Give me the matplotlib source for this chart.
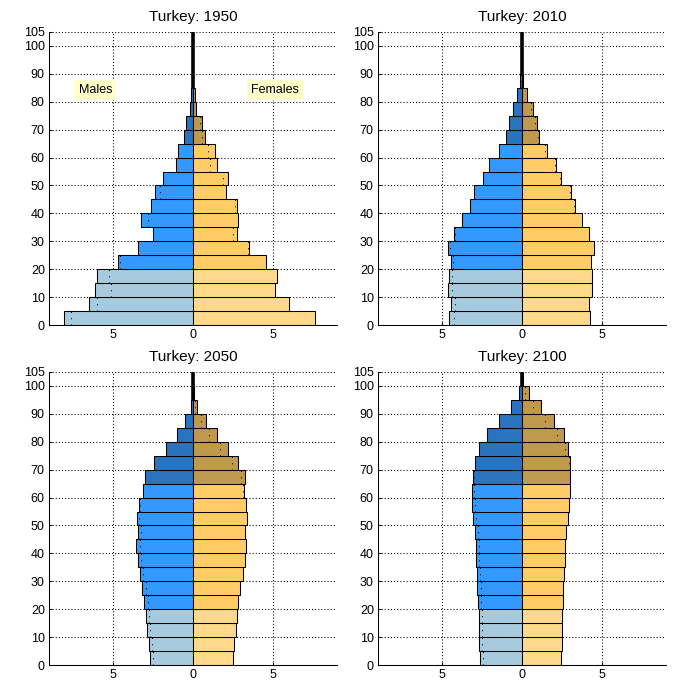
import numpy as np
import matplotlib
matplotlib.use('Agg')
import matplotlib.pyplot as plt

plt.rcParams['font.family'] = ['Liberation Sans', 'DejaVu Sans']

# age groups 0-4, 5-9, ..., 100-104 (percent of population)
edades = np.arange(0, 105, 5)

anos = [1950, 2010, 2050, 2100]

homens_1950 = [8.06, 6.5, 6.12, 6.0, 4.67, 3.42, 2.5, 3.25, 2.62, 2.38, 1.88, 1.06, 0.94, 0.56, 0.44, 0.19, 0.12, 0.03, 0.02, 0.01, 0.01]
mulheres_1950 = [7.63, 6.0, 5.12, 5.25, 4.56, 3.5, 2.75, 2.81, 2.75, 2.06, 2.19, 1.5, 1.38, 0.75, 0.56, 0.19, 0.12, 0.03, 0.02, 0.01, 0.01]

homens_2010 = [4.56, 4.44, 4.62, 4.56, 4.44, 4.62, 4.25, 3.75, 3.25, 3.0, 2.4, 2.08, 1.44, 1.0, 0.81, 0.56, 0.31, 0.12, 0.03, 0.01, 0.01]
mulheres_2010 = [4.25, 4.19, 4.38, 4.38, 4.31, 4.5, 4.19, 3.75, 3.31, 3.06, 2.44, 2.12, 1.56, 1.06, 0.94, 0.69, 0.31, 0.06, 0.02, 0.01, 0.01]

homens_2050 = [2.69, 2.75, 2.88, 2.94, 3.06, 3.19, 3.31, 3.44, 3.56, 3.44, 3.5, 3.38, 3.12, 3.0, 2.44, 1.69, 1.0, 0.5, 0.12, 0.02, 0.01]
mulheres_2050 = [2.5, 2.56, 2.69, 2.75, 2.81, 2.94, 3.12, 3.25, 3.31, 3.25, 3.38, 3.31, 3.19, 3.25, 2.81, 2.19, 1.5, 0.81, 0.25, 0.05, 0.01]

homens_2100 = [2.62, 2.69, 2.69, 2.69, 2.75, 2.81, 2.81, 2.88, 2.88, 2.94, 3.06, 3.12, 3.12, 3.06, 2.94, 2.69, 2.19, 1.44, 0.69, 0.19, 0.03]
mulheres_2100 = [2.44, 2.5, 2.5, 2.5, 2.56, 2.56, 2.62, 2.69, 2.69, 2.75, 2.88, 2.94, 3.0, 3.0, 3.0, 2.88, 2.62, 2.0, 1.19, 0.44, 0.05]

homens = [homens_1950, homens_2010, homens_2050, homens_2100]
mulheres = [mulheres_1950, mulheres_2010, mulheres_2050, mulheres_2100]

yticks = [0, 10, 20, 30, 40, 50, 60, 70, 80, 90, 100, 105]

cores_h = ['#A6CBDE', '#3399FF', '#2A73BF']
cores_m = ['#FFD98A', '#FFCC66', '#BF994C']


def cor(idade, cores):
    if idade < 20:
        return cores[0]
    if idade < 65:
        return cores[1]
    return cores[2]


posicoes = [
    [0.07, 0.5357, 0.411, 0.4186],
    [0.54, 0.5357, 0.411, 0.4186],
    [0.07, 0.05, 0.411, 0.4186],
    [0.54, 0.05, 0.411, 0.4186],
]

fig = plt.figure(figsize=(7, 7), dpi=100)

for k in range(4):
    ax = fig.add_axes(posicoes[k])
    h = np.array(homens[k])
    m = np.array(mulheres[k])
    ch = [cor(a, cores_h) for a in edades]
    cm = [cor(a, cores_m) for a in edades]
    # thick centre line, hidden by the wider bars
    ax.plot([0, 0], [0, 105], color='k', lw=2.6, solid_capstyle='butt', zorder=2)
    ax.barh(edades, -h, height=5, align='edge', color=ch, edgecolor='k', linewidth=0.75, zorder=2.5)
    ax.barh(edades, m, height=5, align='edge', color=cm, edgecolor='k', linewidth=0.75, zorder=2.5)

    # dotted marks: the other sex's value, mirrored
    for a, vh, vm in zip(edades, h, m):
        if vm < vh:
            ax.plot([-vm, -vm], [a, a + 5], color='k', lw=0.75, linestyle=(0, (1, 5)), zorder=3)
        elif vh < vm:
            ax.plot([vh, vh], [a, a + 5], color='k', lw=0.75, linestyle=(0, (1, 5)), zorder=3)

    ax.set_xlim(-9, 9)
    ax.set_ylim(0, 105)
    ax.set_xticks([-5, 0, 5])
    ax.set_xticklabels(['5', '0', '5'])
    ax.set_yticks(yticks)
    ax.tick_params(direction='in', length=2, labelsize=9, width=0.75, pad=3)
    ax.set_axisbelow(True)
    ax.grid(True, color='k', linestyle=(0, (1, 2)), linewidth=0.75)
    ax.spines['top'].set_visible(False)
    ax.spines['right'].set_visible(False)
    ax.spines['left'].set_linewidth(0.75)
    ax.spines['bottom'].set_linewidth(0.75)
    ax.set_title('Turkey: ' + str(anos[k]), fontsize=11, pad=8)

    if k == 0:
        ax.text(-6.1, 84.3, 'Males', fontsize=9, ha='center', va='center',
                bbox=dict(facecolor='#FFFFCC', edgecolor='none', pad=3))
        ax.text(5.15, 84.3, 'Females', fontsize=9, ha='center', va='center',
                bbox=dict(facecolor='#FFFFCC', edgecolor='none', pad=3))

plt.savefig('out.png', dpi=100)
